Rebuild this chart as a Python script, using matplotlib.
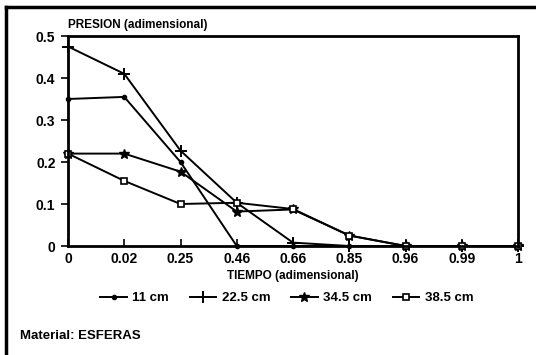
import matplotlib
matplotlib.use("Agg")
import matplotlib.pyplot as plt
from matplotlib.lines import Line2D

# Dimensionless time (categorical axis) and dimensionless pressure per depth
tiempo = ["0", "0.02", "0.25", "0.46", "0.66", "0.85", "0.96", "0.99", "1"]
serie_11 = [0.35, 0.355, 0.20, 0.0, 0.0, 0.0, 0.0, 0.0, 0.0]
serie_22_5 = [0.475, 0.41, 0.227, 0.103, 0.008, 0.0, 0.0, 0.0, 0.0]
serie_34_5 = [0.22, 0.22, 0.177, 0.082, 0.087, 0.025, 0.0, 0.0, 0.0]
serie_38_5 = [0.22, 0.155, 0.10, 0.103, 0.088, 0.025, 0.0, 0.0, 0.0]
etiquetas = ["11 cm", "22.5 cm", "34.5 cm", "38.5 cm"]
y_ticks = [0, 0.1, 0.2, 0.3, 0.4, 0.5]
y_ticklabels = ["0", "0.1", "0.2", "0.3", "0.4", "0.5"]

plt.rcParams["font.family"] = ["Liberation Sans", "DejaVu Sans"]
plt.rcParams["font.weight"] = "bold"

fig = plt.figure(figsize=(5.36, 3.55), dpi=100)
ax = fig.add_axes([68 / 536, 1 - 246 / 355, (518 - 68) / 536, (246 - 36) / 355])

x = list(range(len(tiempo)))
estilos = [
    dict(marker="o", markersize=3, markerfacecolor="black"),
    dict(marker="+", markersize=8, markeredgewidth=1.4),
    dict(marker="*", markersize=7, markerfacecolor="black"),
    dict(marker="s", markersize=5, markerfacecolor="white", markeredgewidth=1.2),
]
for datos, nombre, est in zip([serie_11, serie_22_5, serie_34_5, serie_38_5], etiquetas, estilos):
    ax.plot(x, datos, color="black", linewidth=1.4, label=nombre, clip_on=False,
            markeredgecolor="black", **est)

ax.set_xlim(0, len(tiempo) - 1)
ax.set_ylim(0, 0.5)
ax.set_xticks(x)
ax.set_xticklabels(tiempo)
ax.set_yticks(y_ticks)
ax.set_yticklabels(y_ticklabels)
ax.tick_params(axis="x", direction="in", length=5, width=1.2, pad=4, labelsize=10)
ax.tick_params(axis="y", direction="out", length=5, width=1.2, pad=4, labelsize=10)
for lab in ax.get_xticklabels() + ax.get_yticklabels():
    lab.set_fontweight("bold")
for sp in ax.spines.values():
    sp.set_linewidth(2)

ax.text(0, 1.025, "PRESION (adimensional)", transform=ax.transAxes, ha="left", va="bottom",
        fontsize=8.5, fontweight="bold")
ax.text(0.5, -0.115, "TIEMPO (adimensional)", transform=ax.transAxes, ha="center", va="top",
        fontsize=8.5, fontweight="bold")

leg = fig.legend(loc="center", bbox_to_anchor=(0.535, 1 - 298 / 355), ncol=4, frameon=False,
                 handlelength=2.0, columnspacing=1.6, handletextpad=0.4,
                 prop={"size": 9.5, "weight": "bold"})

fig.text(20 / 536, 1 - 336 / 355, "Material: ESFERAS", ha="left", va="center",
         fontsize=9.5, fontweight="bold")

# Outer frame (top and left edges)
fig.add_artist(Line2D([6 / 536, 1], [1 - 7 / 355, 1 - 7 / 355], transform=fig.transFigure,
                      color="black", linewidth=2.5))
fig.add_artist(Line2D([6 / 536, 6 / 536], [1 - 7 / 355, 0], transform=fig.transFigure,
                      color="black", linewidth=2.5))

fig.savefig("out.png", dpi=100)
